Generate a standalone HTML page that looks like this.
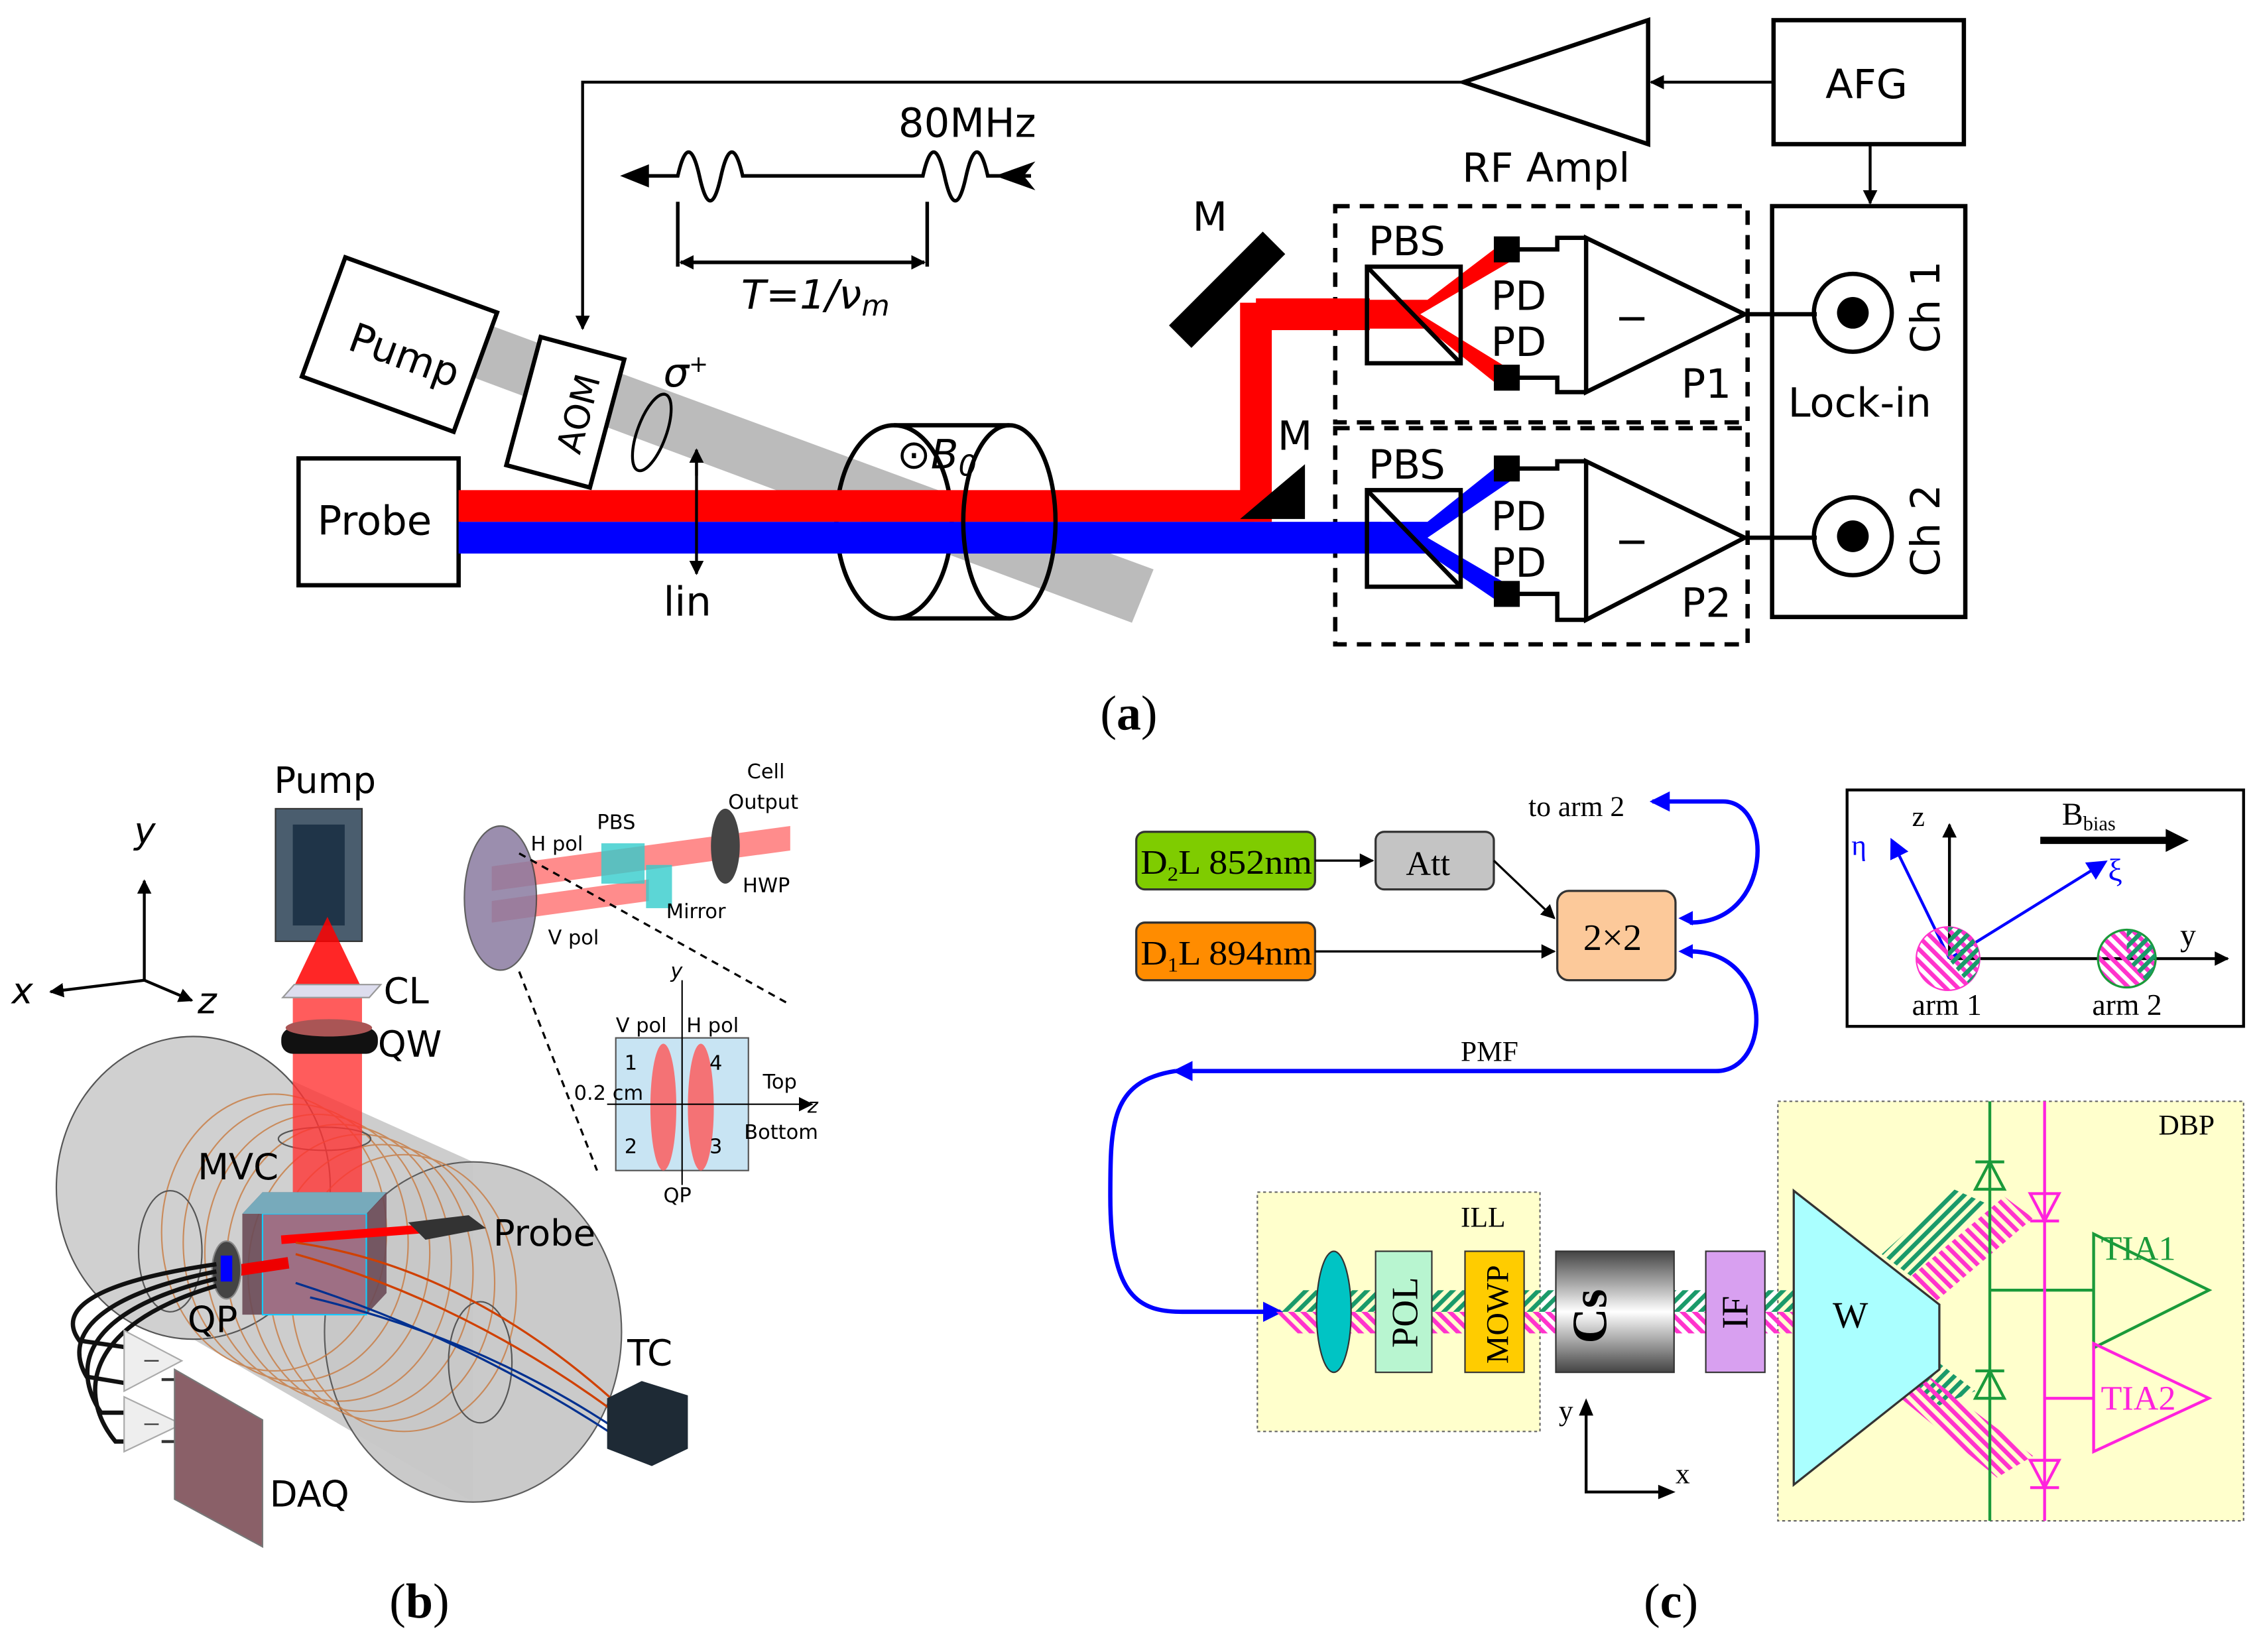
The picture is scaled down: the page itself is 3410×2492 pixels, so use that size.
<!DOCTYPE html>
<html><head><meta charset="utf-8"><style>html,body{margin:0;padding:0;background:#fff}svg{display:block}</style></head>
<body>
<svg width="3410" height="2492" viewBox="0 0 1568 1146" xmlns="http://www.w3.org/2000/svg" font-family="'DejaVu Sans','Liberation Sans',sans-serif">
<defs>
<marker id="ar" markerWidth="10" markerHeight="10" refX="9" refY="5" orient="auto" markerUnits="userSpaceOnUse"><path d="M0,0 L10,5 L0,10 z" fill="#000"/></marker>
<marker id="ab" markerWidth="14" markerHeight="14" refX="12" refY="7" orient="auto" markerUnits="userSpaceOnUse"><path d="M0,0 L14,7 L0,14 z" fill="#00f"/></marker>
<pattern id="hg" width="6" height="6" patternUnits="userSpaceOnUse" patternTransform="rotate(45)"><rect width="3" height="6" fill="#1a9a6a"/></pattern>
<pattern id="hm" width="6" height="6" patternUnits="userSpaceOnUse" patternTransform="rotate(-45)"><rect width="3" height="6" fill="#ff33cc"/></pattern>
<linearGradient id="cs" x1="0" y1="0" x2="0" y2="1"><stop offset="0" stop-color="#444"/><stop offset="0.5" stop-color="#fff"/><stop offset="1" stop-color="#444"/></linearGradient>
</defs>

<!-- ===== Panel (a) ===== -->
<g stroke="#000" stroke-width="3" fill="none">
<rect x="1230" y="14" width="132" height="86"/>
<polygon points="1015,57 1143,14 1143,100"/>
<line x1="1230" y1="57" x2="1145" y2="57" stroke-width="2" marker-end="url(#ar)"/>
<polyline points="1015,57 404,57 404,228" stroke-width="2" marker-end="url(#ar)"/>
<line x1="1297" y1="100" x2="1297" y2="141" stroke-width="2" marker-end="url(#ar)"/>
<rect x="1229" y="143" width="134" height="285"/>
<rect x="926" y="143" width="286" height="150" stroke-dasharray="10,7"/>
<rect x="926" y="297" width="286" height="150" stroke-dasharray="10,7"/>
<polygon points="1100,165 1100,272 1210,218"/>
<polygon points="1100,320 1100,430 1210,373"/>
<line x1="1210" y1="218" x2="1260" y2="218"/>
<line x1="1210" y1="373" x2="1260" y2="373"/>
<circle cx="1285" cy="217" r="27"/>
<circle cx="1285" cy="372" r="27"/>
<polyline points="1045,173 1080,173 1080,165 1100,165" />
<polyline points="1045,262 1080,262 1080,272 1100,272"/>
<polyline points="1045,325 1080,325 1080,320 1100,320"/>
<polyline points="1045,412 1080,412 1080,430 1100,430"/>
<rect x="207" y="318" width="111" height="88"/>
</g>
<circle cx="1285" cy="217" r="11" fill="#000"/><circle cx="1285" cy="372" r="11" fill="#000"/>
<!-- pump gray beam -->
<polygon points="330,222 800,395 785,432 318,258" fill="#aaa" opacity="0.8"/>
<rect x="221" y="195" width="112" height="88" transform="rotate(20 277 239)" fill="#fff" stroke="#000" stroke-width="3"/>
<!-- cylinder -->
<g fill="none" stroke="#000" stroke-width="3">
<ellipse cx="620" cy="362" rx="40" ry="67"/>
<path d="M620,295 L700,295 M620,429 L700,429"/>
</g>
<!-- beams -->
<rect x="318" y="340" width="552" height="22" fill="#f00"/>
<rect x="860" y="210" width="22" height="152" fill="#f00"/>
<polyline points="871,218 950,218" stroke="#f00" stroke-width="22" fill="none"/>
<polygon points="950,208 990,208 1040,170 1050,180 985,218 1050,258 1040,268 990,228 950,228" fill="#f00"/>
<rect x="318" y="362" width="640" height="22" fill="#00f"/>
<polygon points="950,362 990,362 1040,322 1050,332 990,373 1050,408 1040,418 990,384 950,384" fill="#00f"/>
<ellipse cx="700" cy="362" rx="32" ry="67" fill="none" stroke="#000" stroke-width="3"/>
<!-- PBS cubes -->
<g stroke="#000" stroke-width="3" fill="none">
<rect x="948" y="185" width="65" height="67"/><line x1="948" y1="185" x2="1013" y2="252"/>
<rect x="948" y="340" width="65" height="67"/><line x1="948" y1="340" x2="1013" y2="407"/>
</g>
<g fill="#000">
<rect x="1036" y="164" width="18" height="18"/><rect x="1036" y="253" width="18" height="18"/>
<rect x="1036" y="316" width="18" height="18"/><rect x="1036" y="403" width="18" height="18"/>
<rect x="840" y="155" width="22" height="92" transform="rotate(45 851 201)"/>
<polygon points="860,360 905,322 905,360"/>
</g>
<!-- AOM -->
<rect x="362" y="240" width="60" height="92" transform="rotate(15 392 286)" fill="#fff" stroke="#000" stroke-width="3"/>
<!-- sigma, lin -->
<ellipse cx="452" cy="300" rx="10" ry="28" transform="rotate(20 452 300)" fill="none" stroke="#000" stroke-width="2"/>
<line x1="483" y1="318" x2="483" y2="398" stroke="#000" stroke-width="2" marker-end="url(#ar)"/>
<line x1="483" y1="330" x2="483" y2="312" stroke="#000" stroke-width="2" marker-end="url(#ar)"/>
<!-- waveform -->
<g fill="none" stroke="#000" stroke-width="2.5">
<path d="M440,122 L470,122 C475,100 480,100 485,122 C490,145 495,145 500,122 C505,100 510,100 515,122 L640,122 C645,100 650,100 655,122 C660,145 665,145 670,122 C675,100 680,100 685,122 L715,122"/>
<line x1="470" y1="140" x2="470" y2="185"/><line x1="643" y1="140" x2="643" y2="185"/>
<line x1="472" y1="182" x2="641" y2="182" marker-end="url(#ar)"/>
<line x1="641" y1="182" x2="472" y2="182" marker-end="url(#ar)"/>
</g>
<path d="M430,122 L450,114 L450,130 z M690,122 L718,112 L710,122 L718,132 z" fill="#000"/>
<g font-size="28" fill="#000">
<text x="1266" y="68">AFG</text>
<text x="1014" y="126">RF Ampl</text>
<text x="623" y="95">80MHz</text>
<text x="514" y="214" font-style="italic">T=1/ν<tspan font-size="20" dy="5">m</tspan></text>
<text x="827" y="160">M</text>
<text x="886" y="312">M</text>
<text x="949" y="177">PBS</text><text x="1034" y="215">PD</text><text x="1034" y="247">PD</text>
<text x="949" y="332">PBS</text><text x="1034" y="368">PD</text><text x="1034" y="400">PD</text>
<text x="1120" y="230">−</text><text x="1120" y="385">−</text>
<text x="1166" y="276">P1</text><text x="1166" y="428">P2</text>
<text x="1240" y="289">Lock-in</text>
<text transform="translate(1345,245) rotate(-90)">Ch 1</text>
<text transform="translate(1345,400) rotate(-90)">Ch 2</text>
<text x="220" y="371">Probe</text>
<text transform="translate(240,242) rotate(20)">Pump</text>
<text transform="translate(402,316) rotate(-75)" font-size="24">AOM</text>
<text x="460" y="427">lin</text>
<text x="460" y="268" font-style="italic">σ<tspan font-size="16" dy="-10">+</tspan></text>
<text x="622" y="325" font-style="italic">⊙B<tspan font-size="20" dy="5">0</tspan></text>
</g>
<text x="763" y="506" font-family="'Liberation Serif',serif" font-size="34">(<tspan font-weight="bold">a</tspan>)</text>

<!-- ===== Panel (b) ===== -->
<g>
<path d="M134,719 L328,806 L328,1042 L134,929 z" fill="#cdcdcd"/>
<ellipse cx="134" cy="824" rx="95" ry="105" fill="#d0d0d0" stroke="#555"/>
<ellipse cx="328" cy="924" rx="103" ry="118" fill="#c8c8c8" stroke="#555" opacity="0.95"/>
<g fill="none" stroke="#c87a40" stroke-width="1" opacity="0.8">
<ellipse cx="190" cy="855" rx="78" ry="96"/><ellipse cx="205" cy="862" rx="78" ry="96"/>
<ellipse cx="220" cy="869" rx="78" ry="96"/><ellipse cx="235" cy="876" rx="78" ry="96"/>
<ellipse cx="250" cy="883" rx="78" ry="96"/><ellipse cx="265" cy="890" rx="78" ry="96"/>
<ellipse cx="280" cy="897" rx="78" ry="96"/></g>
<ellipse cx="118" cy="868" rx="22" ry="42" fill="none" stroke="#555"/>
<ellipse cx="333" cy="945" rx="22" ry="42" fill="none" stroke="#555"/>
<ellipse cx="225" cy="790" rx="32" ry="8" fill="none" stroke="#555"/>
</g>
<!-- pump -->
<rect x="191" y="561" width="60" height="92" fill="#4a5d6e" stroke="#333"/>
<rect x="203" y="572" width="36" height="70" fill="#1f3448"/>
<polygon points="227,636 251,686 203,686" fill="#f00" opacity="0.85"/>
<rect x="203" y="686" width="48" height="146" fill="#f33" opacity="0.8"/>
<polygon points="196,692 256,692 264,683 204,683" fill="#dde" stroke="#999"/>
<rect x="195" y="713" width="67" height="18" rx="8" fill="#111"/>
<ellipse cx="228" cy="713" rx="30" ry="6" fill="#a55"/>
<!-- cube -->
<polygon points="168,842 182,827 268,827 268,897 254,912 168,912" fill="#6a4a56" opacity="0.9"/>
<rect x="182" y="842" width="72" height="70" fill="#9e6f84" stroke="#1cf"/>
<polygon points="168,842 182,827 268,827 254,842" fill="#7ab"/>
<line x1="195" y1="860" x2="300" y2="852" stroke="#f00" stroke-width="6"/>
<polygon points="283,848 325,843 337,852 295,860" fill="#333"/>
<line x1="160" y1="882" x2="200" y2="876" stroke="#e00" stroke-width="8"/>
<ellipse cx="157" cy="881" rx="10" ry="20" fill="#444" stroke="#888"/>
<rect x="153" y="871" width="8" height="18" fill="#00f"/>
<g fill="none" stroke-width="1.5">
<path d="M205,862 Q330,880 440,985" stroke="#d04000"/><path d="M205,870 Q330,905 440,990" stroke="#d04000"/>
<path d="M205,890 Q330,930 440,1005" stroke="#003090"/><path d="M215,900 Q340,930 440,1000" stroke="#003090"/>
</g>
<g fill="none" stroke="#111" stroke-width="3">
<path d="M150,877 C60,890 40,910 55,930 L90,935"/><path d="M150,882 C60,900 45,930 60,955 L90,960"/>
<path d="M150,887 C55,910 50,950 70,980 L90,980"/><path d="M150,892 C55,920 55,970 80,1000 L90,1000"/>
</g>
<polygon points="86,923 126,944 86,965" fill="#eee" stroke="#aaa"/>
<polygon points="86,969 126,988 86,1007" fill="#eee" stroke="#aaa"/>
<line x1="100" y1="944" x2="110" y2="944" stroke="#333"/><line x1="100" y1="988" x2="110" y2="988" stroke="#333"/>
<line x1="112" y1="957" x2="121" y2="957" stroke="#333" stroke-width="2"/><line x1="112" y1="1000" x2="121" y2="1000" stroke="#333" stroke-width="2"/>
<polygon points="121,950 182,985 182,1073 121,1040" fill="#8a6068" stroke="#777"/>
<polygon points="421,970 445,958 477,968 477,1005 452,1017 421,1005" fill="#1e2a35"/>
<!-- axes -->
<g stroke="#000" stroke-width="2" fill="none">
<line x1="100" y1="680" x2="100" y2="611" marker-end="url(#ar)"/>
<line x1="100" y1="680" x2="35" y2="688" marker-end="url(#ar)"/>
<line x1="100" y1="680" x2="133" y2="694" marker-end="url(#ar)"/>
</g>
<!-- inset -->
<polygon points="341,601 548,573 548,590 341,618" fill="#f66" opacity="0.75"/>
<polygon points="341,625 450,610 450,625 341,640" fill="#f66" opacity="0.75"/>
<ellipse cx="347" cy="623" rx="25" ry="50" fill="#8a7ba0" stroke="#444" opacity="0.85"/>
<rect x="417" y="585" width="30" height="28" fill="#3cc" opacity="0.8"/>
<rect x="448" y="600" width="18" height="30" fill="#3cc" opacity="0.8"/>
<ellipse cx="503" cy="587" rx="10" ry="26" fill="#444"/>
<g stroke="#000" stroke-width="1.5" stroke-dasharray="5,4"><line x1="360" y1="592" x2="548" y2="697"/><line x1="360" y1="674" x2="414" y2="812"/></g>
<rect x="427" y="720" width="92" height="92" fill="#c8e4f3" stroke="#555"/>
<ellipse cx="460" cy="768" rx="9" ry="44" fill="#f55" opacity="0.8"/>
<ellipse cx="486" cy="768" rx="9" ry="44" fill="#f55" opacity="0.8"/>
<line x1="473" y1="680" x2="473" y2="822" stroke="#000"/>
<line x1="421" y1="766" x2="563" y2="766" stroke="#000" marker-end="url(#ar)"/>
<g font-size="25" fill="#000">
<text x="190" y="550">Pump</text><text x="93" y="585" font-style="italic">y</text>
<text x="8" y="696" font-style="italic">x</text><text x="137" y="703" font-style="italic">z</text>
<text x="266" y="696">CL</text><text x="262" y="733">QW</text><text x="137" y="818">MVC</text>
<text x="342" y="864">Probe</text><text x="130" y="924">QP</text><text x="435" y="947">TC</text><text x="187" y="1045">DAQ</text>
</g>
<g font-size="14" fill="#000">
<text x="518" y="540">Cell</text><text x="505" y="561">Output</text><text x="414" y="575">PBS</text>
<text x="368" y="590">H pol</text><text x="515" y="619">HWP</text><text x="462" y="637">Mirror</text>
<text x="380" y="655">V pol</text><text x="465" y="678" font-style="italic">y</text>
<text x="427" y="716">V pol</text><text x="476" y="716">H pol</text>
<text x="433" y="742">1</text><text x="492" y="742">4</text><text x="433" y="800">2</text><text x="492" y="800">3</text>
<text x="398" y="763">0.2 cm</text><text x="529" y="755">Top</text><text x="516" y="790">Bottom</text>
<text x="560" y="772" font-style="italic">z</text><text x="460" y="834">QP</text>
</g>
<text x="270" y="1122" font-family="'Liberation Serif',serif" font-size="34">(<tspan font-weight="bold">b</tspan>)</text>

<!-- ===== Panel (c) ===== -->
<g font-family="'Liberation Serif',serif">
<rect x="872" y="827" width="196" height="166" fill="#ffffcc" stroke="#666" stroke-dasharray="2,2"/>
<rect x="1233" y="764" width="323" height="291" fill="#ffffcc" stroke="#666" stroke-dasharray="2,2"/>
<rect x="1281" y="548" width="275" height="164" fill="#fff" stroke="#000" stroke-width="2"/>
<rect x="788" y="577" width="124" height="40" rx="6" fill="#7fcc00" stroke="#333" stroke-width="1.5"/>
<rect x="954" y="577" width="82" height="40" rx="6" fill="#c4c4c4" stroke="#333" stroke-width="1.5"/>
<rect x="788" y="640" width="124" height="40" rx="6" fill="#ff8c00" stroke="#333" stroke-width="1.5"/>
<rect x="1080" y="618" width="82" height="62" rx="8" fill="#fcc99a" stroke="#333" stroke-width="1.5"/>
<g stroke="#000" stroke-width="1.5">
<line x1="912" y1="597" x2="952" y2="597" marker-end="url(#ar)"/>
<line x1="1036" y1="597" x2="1078" y2="637" marker-end="url(#ar)"/>
<line x1="912" y1="660" x2="1078" y2="660" marker-end="url(#ar)"/>
</g>
<g stroke="#00f" stroke-width="3" fill="none">
<path d="M1172,640 C1230,640 1230,556 1195,556 L1146,556" marker-end="url(#ab)"/>
<path d="M1172,660 C1230,660 1230,743 1190,743 L815,743" marker-end="url(#ab)"/>
<path d="M815,743 C770,750 770,780 770,830 C770,900 790,910 820,910 L888,910" marker-end="url(#ab)"/>
</g>
<path d="M1164,637 L1174,632 L1174,642 z M1164,660 L1174,655 L1174,665 z" fill="#00f"/>
<!-- beams -->
<polygon points="885,910 900,895 1244,895 1244,910" fill="url(#hg)"/>
<polygon points="885,910 900,925 1244,925 1244,910" fill="url(#hm)"/>
<polygon points="1305,870 1355,825 1378,835 1325,885" fill="url(#hg)"/>
<polygon points="1320,890 1390,830 1410,845 1340,905" fill="url(#hm)"/>
<polygon points="1300,940 1325,930 1370,965 1345,975" fill="url(#hg)"/>
<polygon points="1300,955 1325,945 1410,1010 1385,1025" fill="url(#hm)"/>
<ellipse cx="925" cy="910" rx="12" ry="42" fill="#00c4c4" stroke="#333"/>
<rect x="954" y="868" width="39" height="84" fill="#b8f5d0" stroke="#333"/>
<rect x="1016" y="868" width="41" height="84" fill="#ffcc00" stroke="#333"/>
<rect x="1079" y="868" width="82" height="84" fill="url(#cs)" stroke="#333"/>
<rect x="1183" y="868" width="41" height="84" fill="#d8a0f0" stroke="#333"/>
<polygon points="1244,826 1345,905 1345,950 1244,1030" fill="#aaffff" stroke="#333" stroke-width="1.5"/>
<g stroke="#1a9a3a" stroke-width="2" fill="none">
<line x1="1380" y1="764" x2="1380" y2="1055"/><line x1="1380" y1="895" x2="1452" y2="895"/>
<polygon points="1452,856 1452,935 1532,895"/>
<polygon points="1370,825 1390,825 1380,806"/><line x1="1370" y1="806" x2="1390" y2="806"/>
<polygon points="1370,970 1390,970 1380,951"/><line x1="1370" y1="951" x2="1390" y2="951"/>
</g>
<g stroke="#ff22dd" stroke-width="2" fill="none">
<line x1="1418" y1="764" x2="1418" y2="1055"/><line x1="1418" y1="970" x2="1452" y2="970"/>
<polygon points="1452,932 1452,1007 1532,970"/>
<polygon points="1408,828 1428,828 1418,847"/><line x1="1408" y1="847" x2="1428" y2="847"/>
<polygon points="1408,1013 1428,1013 1418,1032"/><line x1="1408" y1="1032" x2="1428" y2="1032"/>
</g>
<g stroke="#000" stroke-width="2" fill="none">
<polyline points="1100,980 1100,1035 1158,1035"/>
</g>
<path d="M1100,970 L1095,982 L1105,982 z M1162,1035 L1150,1030 L1150,1040 z" fill="#000"/>
<!-- inset axes -->
<g stroke="#000" stroke-width="2" fill="none">
<line x1="1352" y1="665" x2="1352" y2="572" marker-end="url(#ar)"/>
<line x1="1352" y1="665" x2="1545" y2="665" marker-end="url(#ar)"/>
</g>
<line x1="1415" y1="583" x2="1505" y2="583" stroke="#000" stroke-width="5"/>
<path d="M1518,583 L1502,575 L1502,591 z" fill="#000"/>
<g stroke="#00f" stroke-width="2"><line x1="1352" y1="665" x2="1312" y2="583" marker-end="url(#ab)"/><line x1="1352" y1="665" x2="1460" y2="598" marker-end="url(#ab)"/></g>
<circle cx="1351" cy="665" r="22" fill="url(#hm)" stroke="#ff33cc"/>
<path d="M1351,643 A22,22 0 0 1 1365,682 L1351,665 z" fill="url(#hg)"/>
<circle cx="1475" cy="665" r="20" fill="url(#hm)" stroke="#1a9a3a" stroke-width="1.5"/>
<path d="M1475,645 A20,20 0 0 1 1488,680 L1475,665 z" fill="url(#hg)"/>
<g fill="#000" font-size="24">
<text x="791" y="606" textLength="119" lengthAdjust="spacingAndGlyphs">D<tspan font-size="14" dy="5">2</tspan><tspan dy="-5">L 852nm</tspan></text>
<text x="975" y="607">Att</text>
<text x="791" y="669" textLength="119" lengthAdjust="spacingAndGlyphs">D<tspan font-size="14" dy="5">1</tspan><tspan dy="-5">L 894nm</tspan></text>
<text x="1098" y="659" font-size="26">2×2</text>
<text x="1060" y="566" font-size="20">to arm 2</text>
<text x="1013" y="736" font-size="20">PMF</text>
<text x="1013" y="851" font-size="20">ILL</text>
<text x="1497" y="787" font-size="20">DBP</text>
<text x="1271" y="921" font-size="26">W</text>
<text transform="translate(983,935) rotate(-90)" font-size="26">POL</text>
<text transform="translate(1046,946) rotate(-90)" font-size="22">MOWP</text>
<text transform="translate(1114,932) rotate(-90)" font-size="34" font-weight="bold">Cs</text>
<text transform="translate(1212,922) rotate(-90)" font-size="26">IF</text>
<text x="1457" y="874" fill="#1a9a3a">TIA1</text>
<text x="1457" y="978" fill="#ff22dd">TIA2</text>
<text x="1081" y="985" font-size="20">y</text><text x="1162" y="1029" font-size="20">x</text>
<text x="1326" y="573" font-size="20">z</text>
<text x="1430" y="572" font-size="22">B<tspan font-size="14" dy="4">bias</tspan></text>
<text x="1284" y="593" font-size="20" fill="#00f">η</text>
<text x="1462" y="611" font-size="22" fill="#00f">ξ</text>
<text x="1512" y="656" font-size="22">y</text>
<text x="1326" y="704" font-size="21">arm 1</text>
<text x="1451" y="704" font-size="21">arm 2</text>
</g>
<text x="1140" y="1122" font-size="34">(<tspan font-weight="bold">c</tspan>)</text>
</g>
</svg>
</body></html>
